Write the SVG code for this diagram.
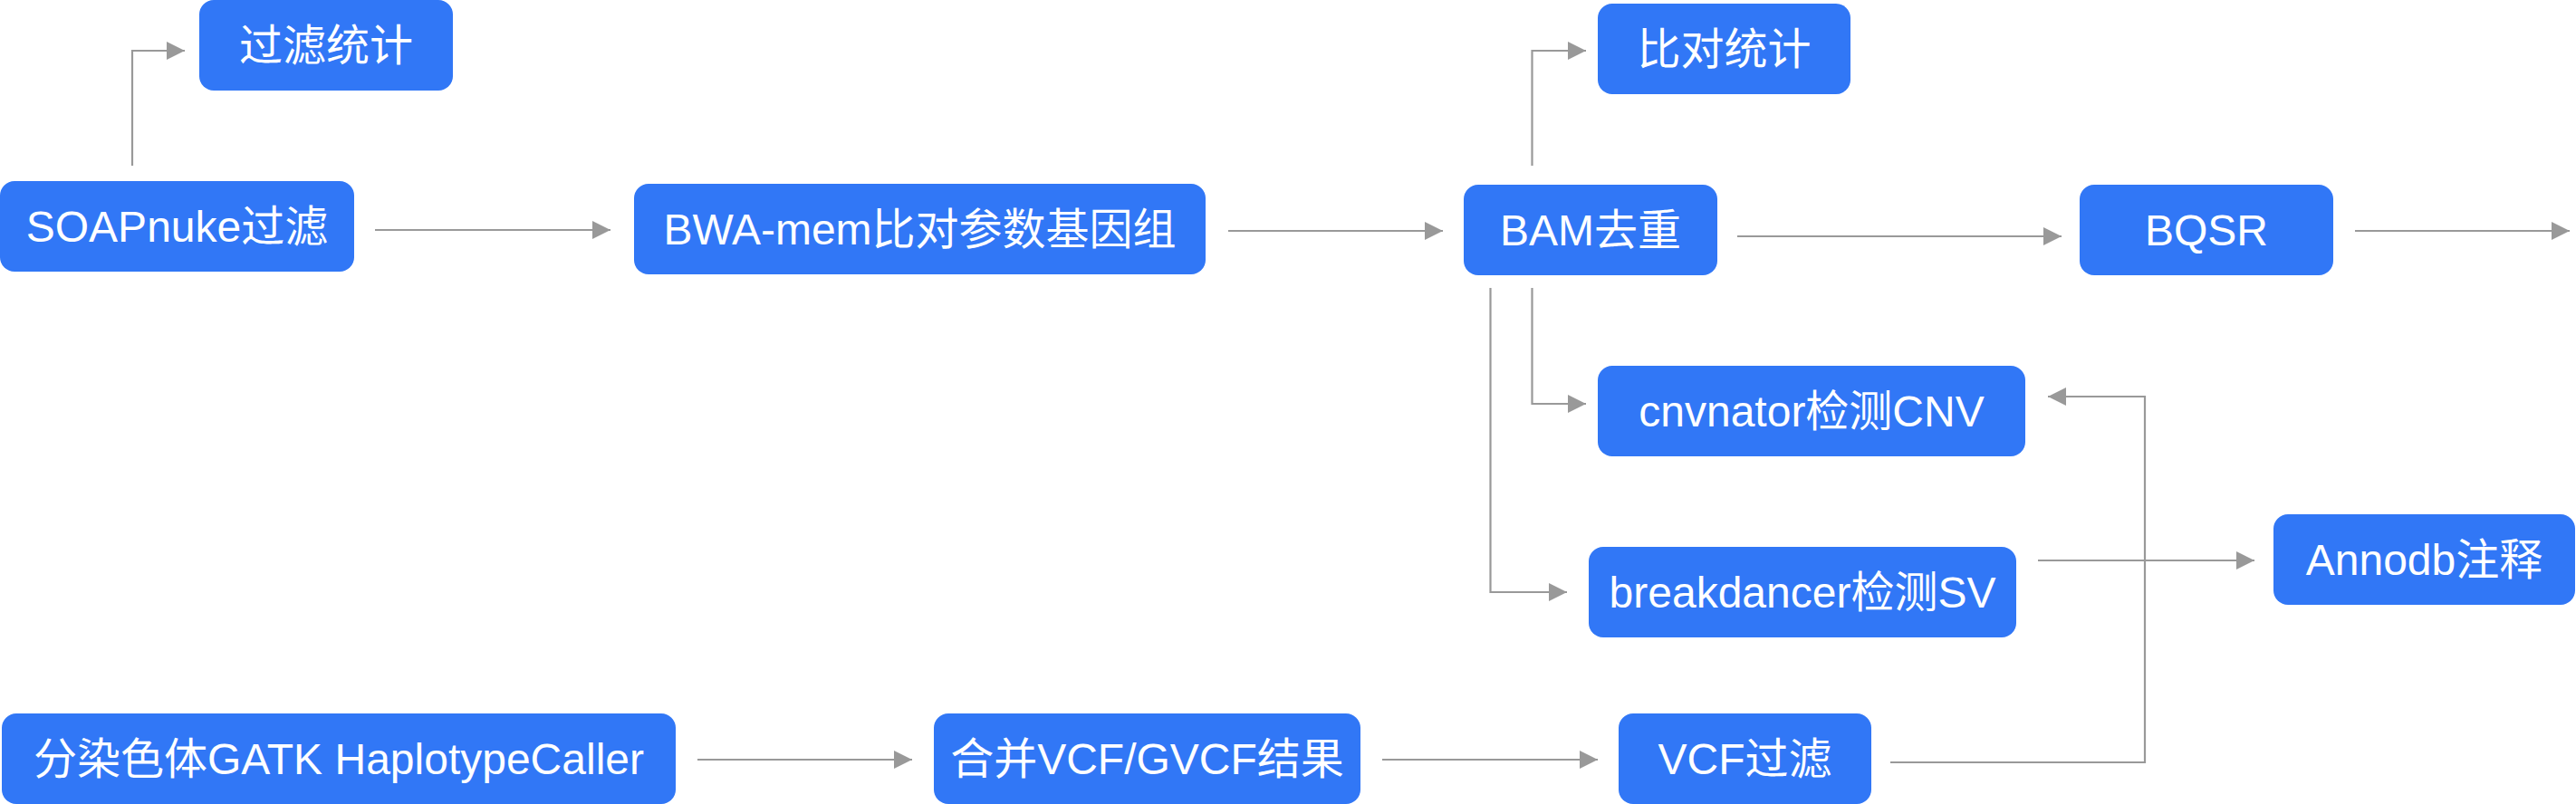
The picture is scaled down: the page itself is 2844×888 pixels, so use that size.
<svg xmlns="http://www.w3.org/2000/svg" width="2844" height="888" viewBox="0 0 2844 888">
<style>
.n rect{fill:#3177f6;}
.n text{fill:#ffffff;font-family:"Liberation Sans","Noto Sans CJK SC",sans-serif;font-size:48px;text-anchor:middle;}
#edges path{fill:none;stroke:#999999;stroke-width:2.2;marker-end:url(#ah);}
</style>
<defs>
<marker id="ah" markerUnits="userSpaceOnUse" markerWidth="20" markerHeight="20" viewBox="0 0 18 18" refX="18" refY="9" orient="auto">
<path d="M0,0 L18,9 L0,18 Z" fill="#999999"/>
</marker>
</defs>
<rect width="2844" height="888" fill="#ffffff"/>
<g id="edges">
<path d="M146,183 V56 H204"/>
<path d="M414,254 H674"/>
<path d="M1356,255 H1593"/>
<path d="M1691.5,183 V56 H1751"/>
<path d="M1918,261 H2276"/>
<path d="M2600,255 H2837"/>
<path d="M1691.5,318 V446 H1751"/>
<path d="M1645.5,318 V654 H1730"/>
<path d="M2250,619 H2489"/>
<path d="M770,839 H1007"/>
<path d="M1526,839 H1764"/>
<path d="M2087,842 H2368 V438 H2261"/>
</g>
<g id="n1" class="n"><rect x="220" y="0" width="280" height="100" rx="16"/><text x="360" y="67">过滤统计</text></g>
<g id="n2" class="n"><rect x="0" y="200" width="391" height="100" rx="16"/><text x="195.5" y="267">SOAPnuke过滤</text></g>
<g id="n3" class="n"><rect x="700" y="203" width="631" height="100" rx="16"/><text x="1015.5" y="270">BWA-mem比对参数基因组</text></g>
<g id="n4" class="n"><rect x="1764" y="4" width="279" height="100" rx="16"/><text x="1903.5" y="71">比对统计</text></g>
<g id="n5" class="n"><rect x="1616" y="204" width="280" height="100" rx="16"/><text x="1756" y="271">BAM去重</text></g>
<g id="n6" class="n"><rect x="2296" y="204" width="280" height="100" rx="16"/><text x="2436" y="271">BQSR</text></g>
<g id="n7" class="n"><rect x="1764" y="404" width="472" height="100" rx="16"/><text x="2000" y="471">cnvnator检测CNV</text></g>
<g id="n8" class="n"><rect x="1754" y="604" width="472" height="100" rx="16"/><text x="1990" y="671">breakdancer检测SV</text></g>
<g id="n9" class="n"><rect x="2510" y="568" width="333" height="100" rx="16"/><text x="2676.5" y="635">Annodb注释</text></g>
<g id="n10" class="n"><rect x="2" y="788" width="744" height="100" rx="16"/><text x="374" y="855">分染色体GATK HaplotypeCaller</text></g>
<g id="n11" class="n"><rect x="1031" y="788" width="471" height="100" rx="16"/><text x="1266.5" y="855">合并VCF/GVCF结果</text></g>
<g id="n12" class="n"><rect x="1787" y="788" width="279" height="100" rx="16"/><text x="1926.5" y="855">VCF过滤</text></g>
</svg>
